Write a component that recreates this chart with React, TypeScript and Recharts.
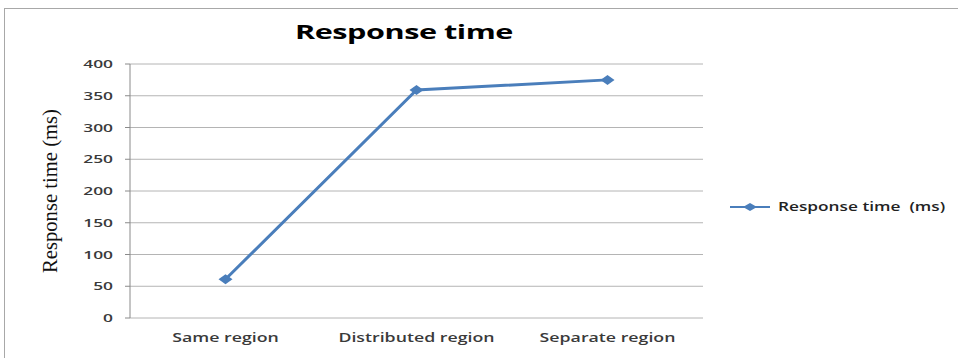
import { LineChart, Line, XAxis, YAxis, CartesianGrid, Legend, Label } from "recharts";

const categories = ["Same region", "Distributed region", "Separate region"];
const responseTimes = [61, 359, 375];
const yTicks = [0, 50, 100, 150, 200, 250, 300, 350, 400];
const edgeTicks = [0, 1, 2, 3];
const seriesName = "Response time  (ms)";

const data = categories.map((category, i) => ({
  category,
  value: responseTimes[i],
  slot: i + 0.5,
}));

const BLUE = "#4a7ebb";
const AXIS = "#8a8a8a";
const GRID = "#b4b4b4";
const TEXT = "#3a3a3a";
const SANS = "'Open Sans', 'Liberation Sans', sans-serif";
// the source picture is stretched sideways, so text is widened to match
const STRETCH = 1.48;

function Diamond(props: any) {
  const { cx, cy } = props;
  if (cx == null || cy == null) return <g />;
  const w = 7;
  const h = 5;
  return (
    <polygon
      points={`${cx - w},${cy} ${cx},${cy - h} ${cx + w},${cy} ${cx},${cy + h}`}
      fill={BLUE}
    />
  );
}

function XTick(props: any) {
  const { x, y, payload } = props;
  return (
    <g transform={`translate(${x},${y}) scale(${STRETCH},1)`}>
      <text x={0} y={0} dy={12} textAnchor="middle" fontFamily={SANS} fontSize={12} fontWeight={600} fill={TEXT}>
        {payload.value}
      </text>
    </g>
  );
}

function YTick(props: any) {
  const { x, y, payload } = props;
  return (
    <g transform={`translate(${x},${y}) scale(${STRETCH + 0.1},1)`}>
      <text x={0} y={0} dy={4} textAnchor="end" fontFamily={SANS} fontSize={11} fontWeight={600} fill={TEXT}>
        {payload.value}
      </text>
    </g>
  );
}

function LegendBox() {
  return (
    <div style={{ display: "flex", alignItems: "center", fontFamily: SANS, fontSize: 12.5, fontWeight: 600, color: "#222" }}>
      <svg width={46} height={16}>
        <line x1={2} y1={8} x2={42} y2={8} stroke={BLUE} strokeWidth={2} />
        <polygon points="15,8 22,4 29,8 22,12" fill={BLUE} />
      </svg>
      <span style={{ marginLeft: 4, whiteSpace: "pre", display: "inline-block", transform: "scaleX(1.38)", transformOrigin: "left center" }}>
        {seriesName}
      </span>
    </div>
  );
}

function YTitle(props: any) {
  const { viewBox } = props;
  const x = viewBox.x - 30;
  const y = viewBox.y + viewBox.height / 2;
  return (
    <text
      x={x}
      y={y}
      transform={`rotate(-90 ${x} ${y})`}
      textAnchor="middle"
      dominantBaseline="central"
      fontFamily="'Liberation Serif', serif"
      fontSize={20}
      textLength={164}
      lengthAdjust="spacingAndGlyphs"
      fill="#111"
    >
      Response time (ms)
    </text>
  );
}

export default function App() {
  return (
    <div style={{ position: "absolute", left: 0, top: 0, width: 958, height: 358, background: "#fff", overflow: "hidden" }}>
      <div
        style={{
          position: "absolute",
          left: 4,
          top: 8,
          width: 980,
          height: 380,
          borderTop: "1px solid #a8a8a8",
          borderLeft: "1px solid #a8a8a8",
        }}
      />
      <div
        style={{
          position: "absolute",
          left: 0,
          top: 18,
          width: 808,
          textAlign: "center",
          fontFamily: SANS,
          fontWeight: 700,
          fontSize: 20,
          letterSpacing: -0.3,
          color: "#000",
          transform: `scaleX(${STRETCH + 0.05})`,
          transformOrigin: "404px center",
        }}
      >
        Response time
      </div>
      <LineChart
        width={958}
        height={358}
        data={data}
        margin={{ top: 64, right: 255, bottom: 10, left: 80 }}
        style={{ position: "absolute", left: 0, top: 0 }}
      >
        <CartesianGrid horizontal vertical={false} stroke={GRID} strokeWidth={1} />
        <XAxis
          xAxisId="edges"
          type="number"
          dataKey="slot"
          domain={[0, 3]}
          ticks={edgeTicks}
          height={0}
          stroke={AXIS}
          tickSize={5}
          tick={() => <g />}
        />
        <XAxis
          dataKey="category"
          scale="band"
          height={30}
          axisLine={false}
          tickLine={false}
          tickSize={0}
          tickMargin={12}
          tick={<XTick />}
        />
        <YAxis
          width={50}
          domain={[0, 400]}
          ticks={yTicks}
          interval={0}
          stroke={AXIS}
          tickSize={5}
          tickMargin={12}
          tick={<YTick />}
        >
          <Label content={<YTitle />} />
        </YAxis>
        <Legend
          layout="horizontal"
          verticalAlign="middle"
          align="center"
          content={<LegendBox />}
          wrapperStyle={{ position: "absolute", left: 728, top: 198, width: 230 }}
        />
        <Line
          type="linear"
          dataKey="value"
          name={seriesName}
          stroke={BLUE}
          strokeWidth={3}
          dot={<Diamond />}
          activeDot={false}
          isAnimationActive={false}
        />
      </LineChart>
    </div>
  );
}
